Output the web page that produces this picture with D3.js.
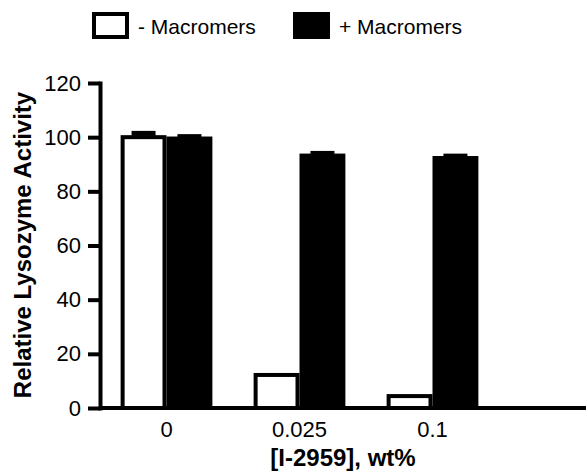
<!DOCTYPE html>
<html>
<head>
<meta charset="utf-8">
<script src="https://cdn.jsdelivr.net/npm/d3@7"></script>
<style>
  body { margin: 0; background: #fff; }
  text { font-family: "Liberation Sans", Arial, sans-serif; }
</style>
</head>
<body>
<div id="chart"></div>
<script>
// data
var categories = ["0", "0.025", "0.1"];
var seriesNames = ["- Macromers", "+ Macromers"];
var withoutMacromers = [100, 12.2, 4.4];
var withoutErr = [1.4, 0, 0];
var withMacromers = [99.5, 93.2, 92.3];
var withErr = [0.7, 0.8, 0.7];
var yTicks = [0, 20, 40, 60, 80, 100, 120];

var W = 586, H = 471;
var margin = {left: 100, top: 83, bottom: 63};
var plotBottom = H - margin.bottom; // 408

var svg = d3.select("#chart")
  .append("svg")
  .attr("width", W)
  .attr("height", H);

var x = d3.scaleBand()
  .domain(categories)
  .range([margin.left, margin.left + 3 * 133])
  .paddingInner(0.31)
  .paddingOuter(0.155);

var y = d3.scaleLinear()
  .domain([0, 120])
  .range([plotBottom, margin.top]);

var half = x.bandwidth() / 2;
var sw = 4;

var rows = categories.map(function(c, i) {
  return [
    {cat: c, s: 0, v: withoutMacromers[i], e: withoutErr[i]},
    {cat: c, s: 1, v: withMacromers[i], e: withErr[i]}
  ];
}).flat();

// bars
svg.append("g")
  .selectAll("rect")
  .data(rows)
  .enter().append("rect")
  .attr("x", function(d) { return x(d.cat) + d.s * half + sw / 2; })
  .attr("width", half - sw)
  .attr("y", function(d) { return y(d.v); })
  .attr("height", function(d) { return plotBottom - y(d.v); })
  .style("fill", function(d) { return d.s === 0 ? "#fff" : "#000"; })
  .style("stroke", "#000")
  .style("stroke-width", sw);

// error bars (upper only)
var eb = svg.append("g")
  .selectAll("g")
  .data(rows.filter(function(d) { return d.e > 0; }))
  .enter().append("g");

eb.append("line")
  .attr("x1", function(d) { return x(d.cat) + d.s * half + half / 2; })
  .attr("x2", function(d) { return x(d.cat) + d.s * half + half / 2; })
  .attr("y1", function(d) { return y(d.v); })
  .attr("y2", function(d) { return y(d.v + d.e); })
  .style("stroke", "#000")
  .style("stroke-width", sw);

eb.append("line")
  .attr("x1", function(d) { return x(d.cat) + d.s * half + half / 2 - 12; })
  .attr("x2", function(d) { return x(d.cat) + d.s * half + half / 2 + 12; })
  .attr("y1", function(d) { return y(d.v + d.e); })
  .attr("y2", function(d) { return y(d.v + d.e); })
  .style("stroke", "#000")
  .style("stroke-width", 5);

// y axis
var yAxis = svg.append("g")
  .attr("transform", "translate(" + margin.left + ",0)")
  .call(d3.axisLeft(y).tickValues(yTicks).tickSize(12).tickPadding(7).tickSizeOuter(0));
yAxis.select(".domain").style("stroke-width", sw).attr("stroke-linecap", "square");
yAxis.selectAll(".tick line").style("stroke-width", sw);
yAxis.selectAll("text").style("font-size", "22px").style("font-family", "Liberation Sans, Arial, sans-serif");

// x axis
var xAxis = svg.append("g")
  .attr("transform", "translate(0," + plotBottom + ")")
  .call(d3.axisBottom(x).tickSize(0).tickPadding(13));
xAxis.select(".domain").remove();
xAxis.selectAll("text").style("font-size", "22px").style("font-family", "Liberation Sans, Arial, sans-serif");

svg.append("line")
  .attr("x1", margin.left)
  .attr("x2", W)
  .attr("y1", plotBottom)
  .attr("y2", plotBottom)
  .style("stroke", "#000")
  .style("stroke-width", sw);

// axis titles
svg.append("text")
  .attr("transform", "translate(31," + 245 + ") rotate(-90)")
  .style("text-anchor", "middle")
  .style("font-size", "24px")
  .style("font-weight", "bold")
  .text("Relative Lysozyme Activity");

svg.append("text")
  .attr("x", (margin.left + W) / 2)
  .attr("y", 466)
  .style("text-anchor", "middle")
  .style("font-size", "24px")
  .style("font-weight", "bold")
  .text("[I-2959], wt%");

// legend
var legX = [94, 295];
var leg = svg.append("g")
  .selectAll("g")
  .data(seriesNames)
  .enter().append("g")
  .attr("transform", function(d, i) { return "translate(" + legX[i] + ",14)"; });

leg.append("rect")
  .attr("width", 33)
  .attr("height", 23)
  .style("fill", function(d, i) { return i === 0 ? "#fff" : "#000"; })
  .style("stroke", "#000")
  .style("stroke-width", sw);

leg.append("text")
  .attr("x", 44)
  .attr("y", 20)
  .style("font-size", "21px")
  .text(function(d) { return d; });
</script>
</body>
</html>
